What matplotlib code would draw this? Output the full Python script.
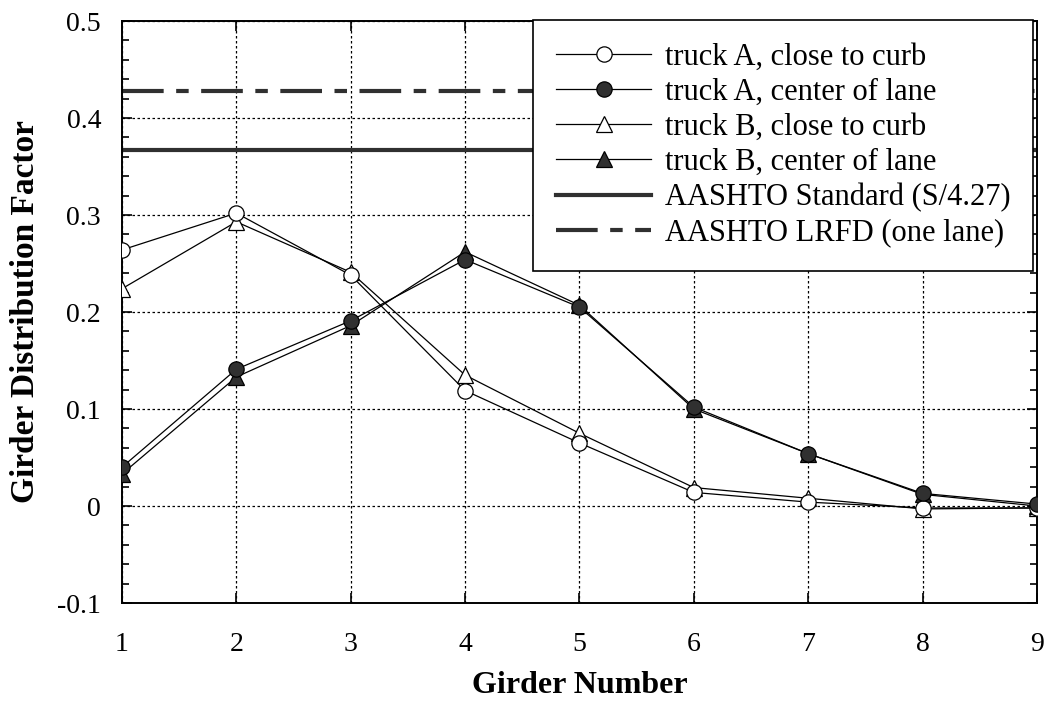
import numpy as np
import matplotlib
matplotlib.use("Agg")
import matplotlib.pyplot as plt
from matplotlib.ticker import MultipleLocator, FuncFormatter

plt.rcParams['font.family'] = ['Liberation Serif', 'DejaVu Serif']

girders = [1, 2, 3, 4, 5, 6, 7, 8, 9]
truckA_curb = [0.264, 0.302, 0.238, 0.119, 0.065, 0.014, 0.004, -0.002, -0.002]
truckA_center = [0.040, 0.141, 0.191, 0.254, 0.205, 0.102, 0.054, 0.013, 0.002]
truckB_curb = [0.224, 0.293, 0.241, 0.135, 0.075, 0.019, 0.008, -0.003, -0.002]
truckB_center = [0.033, 0.133, 0.186, 0.262, 0.207, 0.100, 0.054, 0.012, 0.000]
aashto_std = 0.367
aashto_lrfd = 0.428

fig = plt.figure(figsize=(10.45, 7.08), dpi=100)
ax = fig.add_axes([0.1167, 0.1483, 0.8756, 0.822])

dark = '#303030'
ms = 11
ax.plot(girders, truckA_curb, color='black', lw=0.9, marker='o', ms=ms,
        mfc='white', mec='black', mew=0.9, label='truck A, close to curb', zorder=4)
ax.plot(girders, truckA_center, color='black', lw=0.9, marker='o', ms=ms,
        mfc=dark, mec='black', mew=0.9, label='truck A, center of lane', zorder=4)
ax.plot(girders, truckB_curb, color='black', lw=0.9, marker='^', ms=ms,
        mfc='white', mec='black', mew=0.9, label='truck B, close to curb', zorder=3)
ax.plot(girders, truckB_center, color='black', lw=0.9, marker='^', ms=ms,
        mfc=dark, mec='black', mew=0.9, label='truck B, center of lane', zorder=3)
ax.axhline(aashto_std, color=dark, lw=3, label='AASHTO Standard (S/4.27)', zorder=2)
ax.axhline(aashto_lrfd, color=dark, lw=3, ls=(0, (10, 3, 3, 3)),
           label='AASHTO LRFD (one lane)', zorder=2)

ax.set_xlim(1, 9)
ax.set_ylim(-0.1, 0.5)
ax.xaxis.set_major_locator(MultipleLocator(1))
ax.yaxis.set_major_locator(MultipleLocator(0.1))
ax.yaxis.set_minor_locator(MultipleLocator(0.02))
ax.yaxis.set_major_formatter(FuncFormatter(lambda v, p: '0' if abs(v) < 1e-9 else '%.1f' % v))
ax.tick_params(axis='both', which='both', direction='in', top=True, right=True,
               labelsize=20, width=1.2)
ax.tick_params(axis='both', which='major', length=7)
ax.tick_params(axis='y', which='minor', length=5)
ax.tick_params(axis='x', which='major', pad=21)
ax.tick_params(axis='y', which='major', pad=15)
ax.grid(True, which='major', color='black', ls=(0, (2, 2)), lw=0.9)
for s in ax.spines.values():
    s.set_linewidth(1.4)

ax.set_xlabel('Girder Number', fontsize=23, fontweight='bold', labelpad=10)
ax.set_ylabel('Girder Distribution Factor', fontsize=24, fontweight='bold', labelpad=12)

leg = ax.legend(loc='upper right', bbox_to_anchor=(0.996, 1.002), fontsize=22,
                frameon=True, fancybox=False, edgecolor='black', framealpha=1,
                handlelength=3.1, handletextpad=0.45, borderpad=0.75, labelspacing=0.2,
                borderaxespad=0)
leg.get_frame().set_linewidth(1.2)

fig.savefig('out.png', dpi=100)
